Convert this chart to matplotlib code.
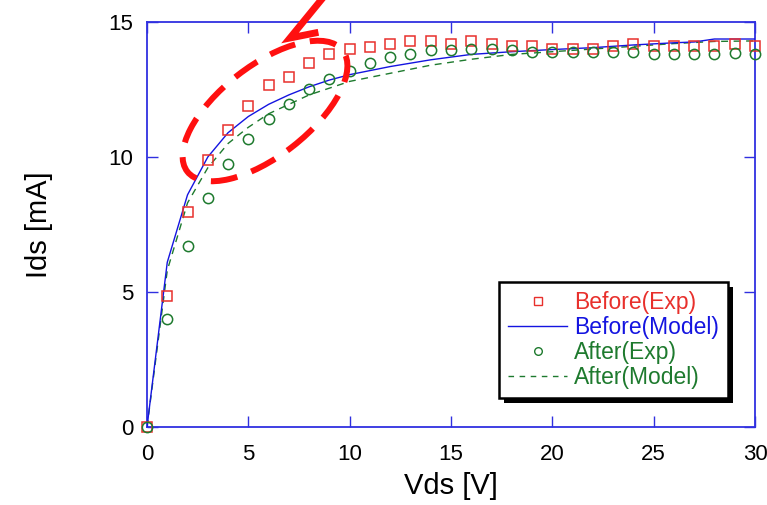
# -*- coding: utf-8 -*-

# Ids-Vds curves, before / after, experiment vs model
import matplotlib
matplotlib.use('Agg')
import matplotlib.pyplot as plt
from matplotlib.patches import Ellipse, Rectangle
from matplotlib.lines import Line2D

plt.rcParams['font.family'] = ['Liberation Sans', 'DejaVu Sans']

vds_exp = [0, 1, 2, 3, 4, 5, 6, 7, 8, 9, 10, 11, 12, 13, 14, 15, 16, 17, 18, 19, 20,
           21, 22, 23, 24, 25, 26, 27, 28, 29, 30]
before_exp = [0, 4.85, 7.95, 9.9, 11.0, 11.9, 12.68, 12.97, 13.49, 13.8, 14.0, 14.08,
              14.2, 14.3, 14.3, 14.2, 14.3, 14.2, 14.1, 14.1, 14.0, 14.0, 14.0, 14.1,
              14.2, 14.1, 14.1, 14.1, 14.1, 14.2, 14.1]
after_exp = [0, 4.0, 6.72, 8.48, 9.74, 10.67, 11.42, 11.97, 12.5, 12.88, 13.18, 13.47,
             13.7, 13.83, 13.96, 13.98, 14.0, 14.0, 13.96, 13.9, 13.9, 13.9, 13.88, 13.9,
             13.9, 13.83, 13.83, 13.83, 13.83, 13.86, 13.83]

vds_model = [0, 1, 2, 3, 4, 5, 6, 7, 8, 9, 10, 12, 14, 16, 18, 20, 22, 24, 26, 27, 28, 30]
before_model = [0, 6.1, 8.6, 10.0, 10.9, 11.5, 11.95, 12.3, 12.6, 12.85, 13.05, 13.35,
                13.6, 13.8, 13.9, 13.98, 14.05, 14.15, 14.23, 14.26, 14.37, 14.37]
after_model = [0, 5.8, 8.3, 9.6, 10.5, 11.1, 11.6, 11.95, 12.3, 12.55, 12.8, 13.1,
               13.4, 13.62, 13.8, 13.9, 14.0, 14.1, 14.2, 14.24, 14.28, 14.3]

labels = ['Before(Exp)', 'Before(Model)', 'After(Exp)', 'After(Model)']
red = '#e8302c'
blue = '#1414e0'
green = '#1e7a2e'
spine = '#3030e0'

fig = plt.figure(figsize=(7.67, 5.05), dpi=100)
ax = fig.add_axes([147/767, 78/505, 608/767, 405/505])

ax.plot(vds_model, after_model, color=green, lw=1.0, ls=(0, (5, 4)), zorder=2)
ax.plot(vds_model, before_model, color=blue, lw=1.0, zorder=3)
ax.plot(vds_exp, before_exp, ls='none', marker='s', ms=7.4, mfc='none', mec=red,
        mew=1.1, zorder=4, clip_on=False)
ax.plot(vds_exp, after_exp, ls='none', marker='o', ms=7.4, mfc='none', mec=green,
        mew=1.1, zorder=4, clip_on=False)

ax.set_xlim(0, 30)
ax.set_ylim(0, 15)
ax.set_xticks([0, 5, 10, 15, 20, 25, 30])
ax.set_yticks([0, 5, 10, 15])
for s in ax.spines.values():
    s.set_color(spine)
    s.set_linewidth(1.3)
ax.tick_params(direction='in', length=8, width=1, color=spine, top=True, right=True,
               labelsize=16)
ax.tick_params(axis='x', pad=12)
ax.tick_params(axis='y', pad=10)
ax.set_xlabel('Vds [V]', fontsize=21, labelpad=5)
ax.set_ylabel('Ids [mA]', fontsize=21, labelpad=40)

# legend
handles = [Line2D([], [], ls='none', marker='s', ms=5.5, mfc='none', mec=red, mew=1),
           Line2D([], [], color=blue, lw=1),
           Line2D([], [], ls='none', marker='o', ms=5.5, mfc='none', mec=green, mew=1),
           Line2D([], [], color=green, lw=1, ls=(0, (4, 4)))]
leg = ax.legend(handles, labels, loc='lower right', bbox_to_anchor=(0.956, 0.072),
                borderaxespad=0, fontsize=16.5, handlelength=2.6, handletextpad=0.3,
                labelspacing=0.08, fancybox=False, framealpha=1, edgecolor='black',
                borderpad=0.4)
leg.get_frame().set_linewidth(1.8)
for t, c in zip(leg.get_texts(), [red, blue, green, green]):
    t.set_color(c)

# black drop shadow behind the legend box
fig.canvas.draw()
bb = leg.get_frame().get_window_extent()
shadow = Rectangle((bb.x0 + 5, bb.y0 - 5), bb.width, bb.height, transform=None,
                   facecolor='black', edgecolor='none', zorder=4.9, clip_on=False)
ax.add_artist(shadow)

# red dashed ellipse + arrow (figure pixel positions)
ell = Ellipse((2.65, 5.05 - 1.11), 1.97, 0.9, angle=38,
              transform=fig.dpi_scale_trans, fill=False, edgecolor='#ff1010',
              lw=4.3, ls=(0, (4.5, 2.5)), zorder=10)
fig.patches.append(ell)
fig.add_artist(Line2D([326/767, 290/767, 315/767], [1 + 6/505, 1 - 38/505, 1 - 33/505],
                      transform=fig.transFigure, color='#ff1010', lw=5,
                      solid_joinstyle='miter', zorder=10))

plt.savefig('out.png', dpi=100)
